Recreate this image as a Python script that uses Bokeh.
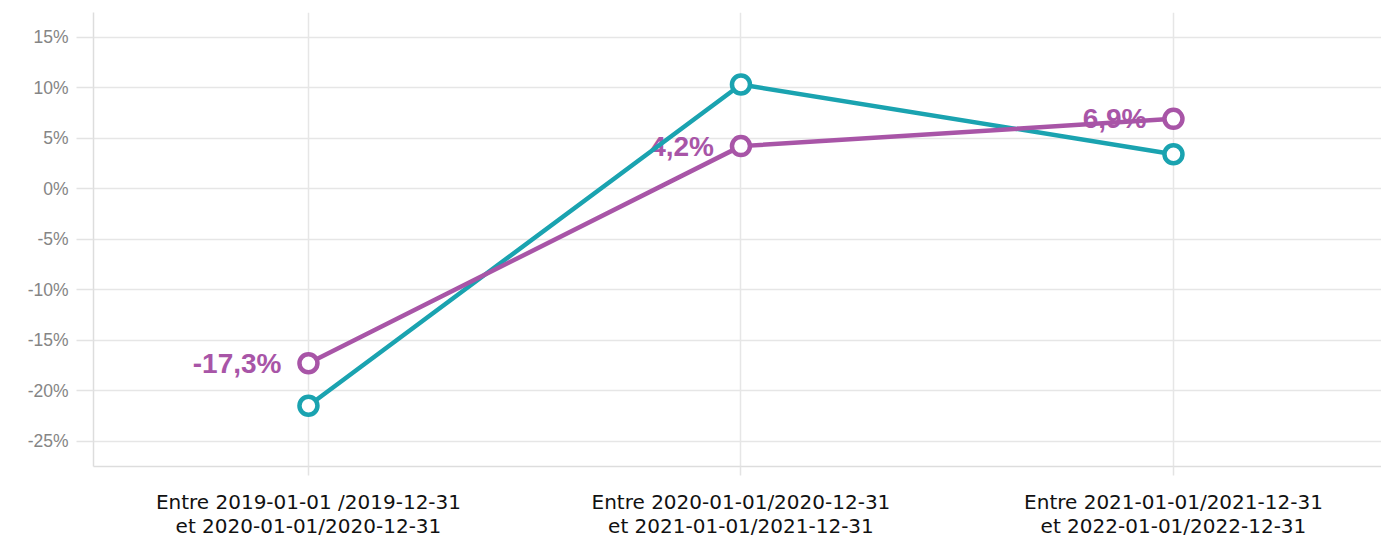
from bokeh.plotting import figure
from bokeh.models import ColumnDataSource, FixedTicker, Range1d
from bokeh.core.properties import value
from bokeh.embed import file_html
from bokeh.resources import INLINE

categories = ["Entre 2019-01-01 /2019-12-31\net 2020-01-01/2020-12-31",
              "Entre 2020-01-01/2020-12-31\net 2021-01-01/2021-12-31",
              "Entre 2021-01-01/2021-12-31\net 2022-01-01/2022-12-31"]
teal_values = [-21.5, 10.3, 3.4]
purple_values = [-17.3, 4.2, 6.9]
purple_labels = ["-17,3%", "4,2%", "6,9%"]
y_ticks = [-25, -20, -15, -10, -5, 0, 5, 10, 15]

TEAL = "#1aa3b0"
PURPLE = "#a855a7"

xs = list(range(len(categories)))

p = figure(width=1381, height=541, output_backend="svg", toolbar_location=None,
           x_range=Range1d(-0.497, 2.481), y_range=Range1d(-27.52, 17.43),
           min_border_left=93, min_border_right=0, min_border_top=12, min_border_bottom=75)
p.outline_line_color = None
p.background_fill_color = "white"

# axes
p.yaxis.ticker = FixedTicker(ticks=y_ticks)
p.yaxis.major_label_overrides = {t: f"{t}%" for t in y_ticks}
p.xaxis.ticker = FixedTicker(ticks=xs)
p.xaxis.major_label_overrides = {i: c for i, c in enumerate(categories)}

for ax in (p.xaxis[0], p.yaxis[0]):
    ax.axis_line_color = "#dddddd"
    ax.axis_line_width = 1.5
    ax.major_tick_line_color = "#e3e3e3"
    ax.major_tick_line_width = 1.5
    ax.major_tick_in = 0
    ax.minor_tick_line_color = None

p.yaxis.major_tick_out = 17
p.yaxis.major_label_standoff = 8
p.yaxis.major_label_text_font = "Liberation Sans"
p.yaxis.major_label_text_font_size = "17.5px"
p.yaxis.major_label_text_color = "#858585"

p.xaxis.major_tick_out = 9
p.xaxis.major_label_standoff = 14
p.xaxis.major_label_text_font = "DejaVu Sans"
p.xaxis.major_label_text_font_size = "20px"
p.xaxis.major_label_text_line_height = 1.0
p.xaxis.major_label_text_color = "#111111"

p.xgrid.ticker = FixedTicker(ticks=xs)
p.ygrid.ticker = FixedTicker(ticks=y_ticks)
p.grid.grid_line_color = "#e6e6e6"
p.grid.grid_line_width = 1.5

# labels
src_lab = ColumnDataSource(dict(x=xs, y=purple_values, t=purple_labels))
p.text(x="x", y="y", text="t", source=src_lab, text_align="right", text_baseline="middle",
       x_offset=-27, y_offset=0, text_color=PURPLE, text_font=value("Liberation Sans"),
       text_font_size="28px", text_font_style="bold")

# series
for vals, col in ((teal_values, TEAL), (purple_values, PURPLE)):
    src = ColumnDataSource(dict(x=xs, y=vals))
    p.line(x="x", y="y", source=src, line_color=col, line_width=4.5)
    p.scatter(x="x", y="y", source=src, size=18, fill_color="white",
              line_color=col, line_width=4.5)

open("out.html", "w").write(file_html(p, INLINE))
